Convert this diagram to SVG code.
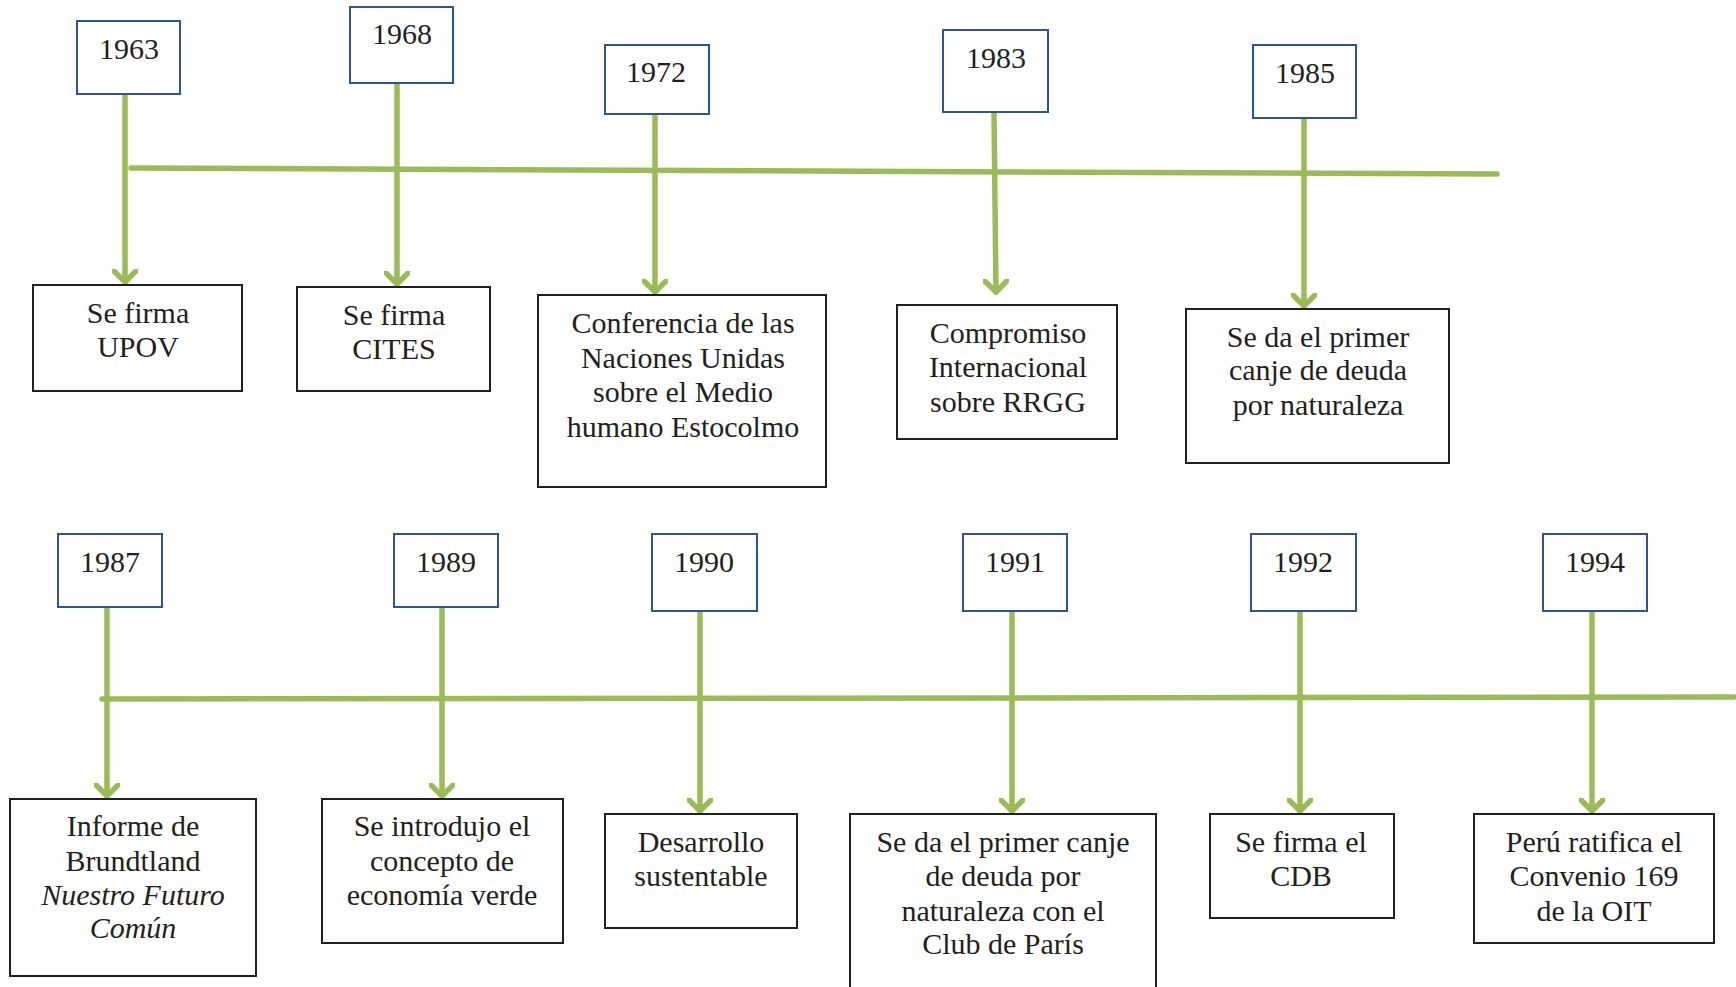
<svg xmlns="http://www.w3.org/2000/svg" width="1736" height="987" viewBox="0 0 1736 987">
<style>
.yr{fill:#fff;stroke:#2F5597;stroke-width:2}
.ev{fill:#fff;stroke:#231F20;stroke-width:2}
.t{font-family:"Liberation Serif","DejaVu Serif",serif;font-size:30px;fill:#231F20;text-anchor:middle}
.ln{stroke:#9BBB59;stroke-width:5.5;fill:none;stroke-linecap:round;stroke-linejoin:round}
</style>
<defs>
<marker id="ah" viewBox="-13 -13 26 26" markerWidth="26" markerHeight="26" refX="0" refY="0" orient="auto" markerUnits="userSpaceOnUse">
<path d="M-11,-11 L0,0 L-11,11" fill="none" stroke="#9BBB59" stroke-width="5.5" stroke-linecap="round" stroke-linejoin="round"/>
</marker>
</defs>
<rect width="1736" height="987" fill="#fff"/>
<g id="connectors">
<path class="ln" d="M131,168 L1497,174"/>
<path class="ln" d="M102,699 L1734,697"/>
<path class="ln" d="M125,94 L125,282" marker-end="url(#ah)"/>
<path class="ln" d="M397,83 L397,284" marker-end="url(#ah)"/>
<path class="ln" d="M655,114 L655,292" marker-end="url(#ah)"/>
<path class="ln" d="M994,112 L996,292" marker-end="url(#ah)"/>
<path class="ln" d="M1304,118 L1304,306" marker-end="url(#ah)"/>
<path class="ln" d="M107,607 L107,796" marker-end="url(#ah)"/>
<path class="ln" d="M442,607 L442,796" marker-end="url(#ah)"/>
<path class="ln" d="M700,611 L700,811" marker-end="url(#ah)"/>
<path class="ln" d="M1012,611 L1012,811" marker-end="url(#ah)"/>
<path class="ln" d="M1300,611 L1300,811" marker-end="url(#ah)"/>
<path class="ln" d="M1592,611 L1592,811" marker-end="url(#ah)"/>
</g>
<g id="y1963"><rect class="yr" x="77" y="21" width="103" height="73"/><text class="t" x="129" y="59">1963</text></g>
<g id="y1968"><rect class="yr" x="350" y="7" width="103" height="76"/><text class="t" x="402" y="44">1968</text></g>
<g id="y1972"><rect class="yr" x="605" y="45" width="104" height="69"/><text class="t" x="656" y="82">1972</text></g>
<g id="y1983"><rect class="yr" x="943" y="30" width="105" height="82"/><text class="t" x="996" y="68">1983</text></g>
<g id="y1985"><rect class="yr" x="1253" y="45" width="103" height="73"/><text class="t" x="1305" y="83">1985</text></g>
<g id="e1963"><rect class="ev" x="33" y="285" width="209" height="106"/><text class="t" x="138" y="323">Se firma</text><text class="t" x="138" y="357">UPOV</text></g>
<g id="e1968"><rect class="ev" x="297" y="287" width="193" height="104"/><text class="t" x="394" y="325">Se firma</text><text class="t" x="394" y="359">CITES</text></g>
<g id="e1972"><rect class="ev" x="538" y="295" width="288" height="192"/><text class="t" x="683" y="333">Conferencia de las</text><text class="t" x="683" y="368">Naciones Unidas</text><text class="t" x="683" y="402">sobre el Medio</text><text class="t" x="683" y="437">humano Estocolmo</text></g>
<g id="e1983"><rect class="ev" x="897" y="305" width="220" height="134"/><text class="t" x="1008" y="343">Compromiso</text><text class="t" x="1008" y="377">Internacional</text><text class="t" x="1008" y="412">sobre RRGG</text></g>
<g id="e1985"><rect class="ev" x="1186" y="309" width="263" height="154"/><text class="t" x="1318" y="347">Se da el primer</text><text class="t" x="1318" y="380">canje de deuda</text><text class="t" x="1318" y="415">por naturaleza</text></g>
<g id="y1987"><rect class="yr" x="58" y="534" width="104" height="73"/><text class="t" x="110" y="572">1987</text></g>
<g id="y1989"><rect class="yr" x="394" y="534" width="104" height="73"/><text class="t" x="446" y="572">1989</text></g>
<g id="y1990"><rect class="yr" x="652" y="534" width="105" height="77"/><text class="t" x="704" y="572">1990</text></g>
<g id="y1991"><rect class="yr" x="963" y="534" width="104" height="77"/><text class="t" x="1015" y="572">1991</text></g>
<g id="y1992"><rect class="yr" x="1251" y="534" width="105" height="77"/><text class="t" x="1303" y="572">1992</text></g>
<g id="y1994"><rect class="yr" x="1543" y="534" width="104" height="77"/><text class="t" x="1595" y="572">1994</text></g>
<g id="e1987"><rect class="ev" x="10" y="799" width="246" height="177"/><text class="t" x="133" y="836">Informe de</text><text class="t" x="133" y="871">Brundtland</text><text class="t" x="133" y="905" font-style="italic">Nuestro Futuro</text><text class="t" x="133" y="938" font-style="italic">Común</text></g>
<g id="e1989"><rect class="ev" x="322" y="799" width="241" height="144"/><text class="t" x="442" y="836">Se introdujo el</text><text class="t" x="442" y="871">concepto de</text><text class="t" x="442" y="905">economía verde</text></g>
<g id="e1990"><rect class="ev" x="605" y="814" width="192" height="114"/><text class="t" x="701" y="852">Desarrollo</text><text class="t" x="701" y="886">sustentable</text></g>
<g id="e1991"><rect class="ev" x="850" y="814" width="306" height="190"/><text class="t" x="1003" y="852">Se da el primer canje</text><text class="t" x="1003" y="886">de deuda por</text><text class="t" x="1003" y="921">naturaleza con el</text><text class="t" x="1003" y="954">Club de París</text></g>
<g id="e1992"><rect class="ev" x="1210" y="814" width="184" height="104"/><text class="t" x="1301" y="852">Se firma el</text><text class="t" x="1301" y="886">CDB</text></g>
<g id="e1994"><rect class="ev" x="1474" y="814" width="240" height="129"/><text class="t" x="1594" y="852">Perú ratifica el</text><text class="t" x="1594" y="886">Convenio 169</text><text class="t" x="1594" y="921">de la OIT</text></g>
</svg>
